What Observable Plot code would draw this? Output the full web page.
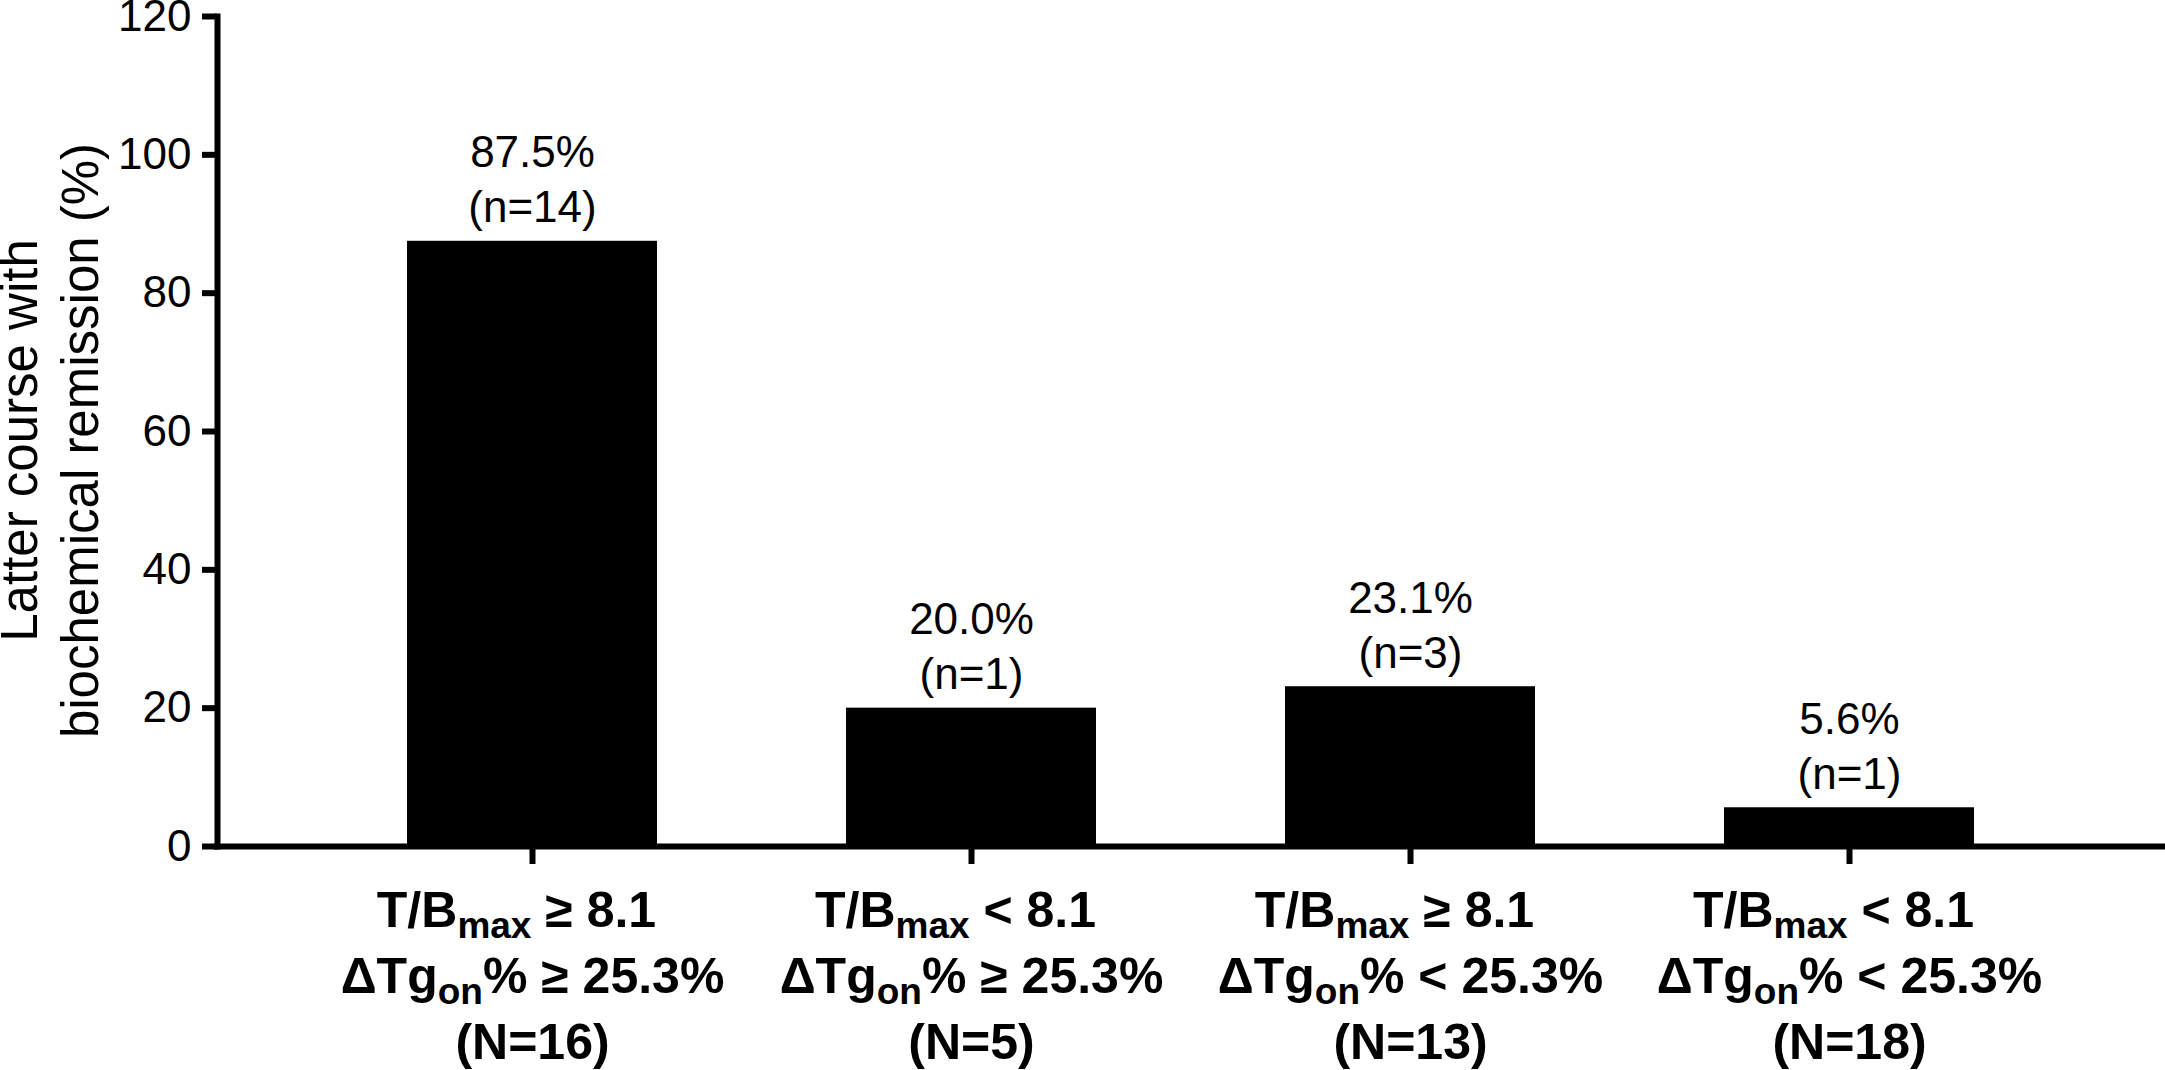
<!DOCTYPE html>
<html><head><meta charset="utf-8">
<script src="https://cdn.jsdelivr.net/npm/d3@7"></script>
<script src="https://cdn.jsdelivr.net/npm/@observablehq/plot@0.6"></script>
<style>body{margin:0;background:#fff} svg{display:block}</style>
</head><body><div id="chart"></div>
<script>
// ---- data ----
const tbLines = ["T/B{max} ≥ 8.1", "T/B{max} < 8.1", "T/B{max} ≥ 8.1", "T/B{max} < 8.1"];
const tgLines = ["ΔTg{on}% ≥ 25.3%", "ΔTg{on}% ≥ 25.3%", "ΔTg{on}% < 25.3%", "ΔTg{on}% < 25.3%"];
const groupN = [16, 5, 13, 18];
const remissionPct = [87.5, 20.0, 23.1, 5.6];
const remissionN = [14, 1, 3, 1];
const yTicks = [0, 20, 40, 60, 80, 100, 120];
const yTitle = ["Latter course with", "biochemical remission (%)"];

const categories = tbLines.map((t, i) => `${t}\n${tgLines[i]}\n(N=${groupN[i]})`);
const data = categories.map((c, i) => ({cat: c, pct: remissionPct[i], n: remissionN[i]}));

const font = "'Liberation Sans', Arial, sans-serif";
const plot = Plot.plot({
  width: 2165, height: 1070,
  marginLeft: 217, marginRight: 0, marginTop: 16, marginBottom: 224,
  style: {fontFamily: font, background: "white", color: "black", overflow: "visible"},
  x: {domain: categories, padding: 0.43, label: null},
  y: {domain: [0, 120], label: null},
  marks: [
    Plot.barY(data, {x: "cat", y: "pct", fill: "black"}),
    Plot.text(data, {x: "cat", y: "pct", text: d => `${d.pct.toFixed(1)}%\n(n=${d.n})`, lineAnchor: "bottom", dy: -19, fontSize: 44, lineHeight: 1.25, fill: "black"}),
    Plot.axisY({ticks: yTicks, tickSize: 15, tickPadding: 11, strokeWidth: 6, fontSize: 44, label: null, tickFormat: d => String(d)}),
    Plot.axisX({tickSize: 18, tickPadding: 16, strokeWidth: 6, fontSize: 50, fontWeight: "bold", lineHeight: 1.32, label: null, tickFormat: d => d}),
    Plot.ruleY([0], {strokeWidth: 6, strokeLinecap: "square"}),
    Plot.frame({anchor: "left", strokeWidth: 6, strokeLinecap: "square"}),
    Plot.text([yTitle.join("\n")], {text: d => d, frameAnchor: "left", textAnchor: "middle", rotate: -90, dx: -120, dy: 9, lineAnchor: "bottom", lineHeight: 1.18, fontSize: 51, fill: "black"})
  ]
});
document.getElementById("chart").appendChild(plot);

// subscripts in x tick labels: text inside {...} becomes a lowered, smaller tspan
const SVGNS = "http://www.w3.org/2000/svg";
const SUB_SHIFT = 11, SUB_SIZE = 37;
function addSpan(parent, str, dy, size) {
  const t = document.createElementNS(SVGNS, "tspan");
  if (dy) t.setAttribute("dy", dy);
  if (size) t.setAttribute("font-size", size);
  t.textContent = str;
  parent.appendChild(t);
}
plot.querySelectorAll('g[aria-label="x-axis tick label"] text').forEach(text => {
  const spans = text.querySelectorAll("tspan");
  const targets = spans.length ? [...spans] : [text];
  targets.forEach((el, li) => {
    const s = el.textContent;
    if (!s.includes("{")) return;
    if (li === 0 && spans.length) el.setAttribute("dx", -16);
    el.textContent = "";
    const tokens = s.split(/(\{[^}]*\})/).filter(x => x);
    let down = false;
    for (const tok of tokens) {
      if (tok.startsWith("{")) {
        addSpan(el, tok.slice(1, -1), down ? 0 : SUB_SHIFT, SUB_SIZE);
        down = true;
      } else {
        addSpan(el, tok, down ? -SUB_SHIFT : 0, 0);
        down = false;
      }
    }
  });
});
</script>
</body></html>
